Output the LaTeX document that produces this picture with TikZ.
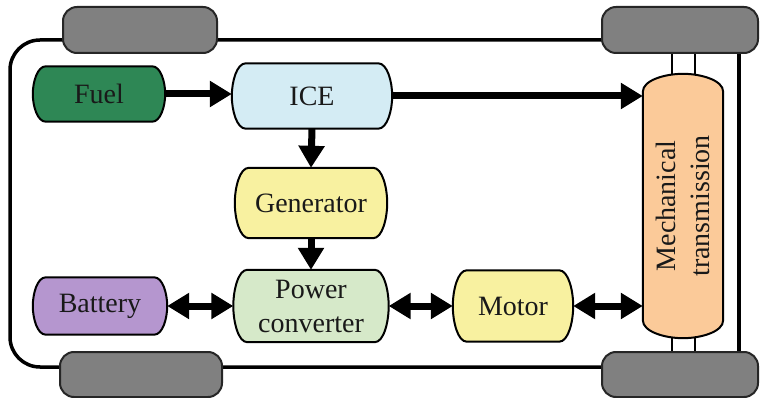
\documentclass[tikz,border=0pt]{standalone}
\usepackage{fontspec}
\setmainfont{Liberation Serif}
\newfontfamily\dfont{Liberation Serif}
\usetikzlibrary{arrows.meta,calc,backgrounds}
\definecolor{fuelc}{RGB}{46,135,85}
\definecolor{icec}{RGB}{212,236,244}
\definecolor{genc}{RGB}{248,241,160}
\definecolor{pcc}{RGB}{214,233,201}
\definecolor{batc}{RGB}{181,150,207}
\definecolor{trc}{RGB}{251,202,153}
\definecolor{wheelc}{RGB}{128,128,128}
\definecolor{txtc}{RGB}{25,25,25}
\tikzset{
  blk/.style={rectangle, inner sep=0pt, align=center, text=txtc, font=\dfont\fontsize{28}{34}\selectfont},
  blkline/.style={draw=black, line width=2pt},
  wheel/.style={draw=black!85, line width=2pt, fill=wheelc, rounded corners=14pt},
  flow/.style={line width=7pt, -{Triangle[length=22pt,width=25pt]}},
  bflow/.style={line width=7pt, {Triangle[length=22pt,width=25pt]}-{Triangle[length=22pt,width=25pt]}},
  frame/.style={line width=3.5pt, draw=black},
  axle/.style={line width=1.8pt, draw=black}
}
% horizontal block outline: name, colour, corner inset
\newcommand{\hshape}[3]{%
  \path[blkline, fill=#2] let \p1=(#1.north west), \p2=(#1.south east), \n1={\y1-\y2} in
   ({\x1+#3},\y1) -- ({\x2-#3},\y1)
   .. controls ({\x2-0.35*#3},\y1) and (\x2,{\y1-0.28*\n1}) .. (\x2,{0.5*(\y1+\y2)})
   .. controls (\x2,{\y2+0.28*\n1}) and ({\x2-0.35*#3},\y2) .. ({\x2-#3},\y2)
   -- ({\x1+#3},\y2)
   .. controls ({\x1+0.35*#3},\y2) and (\x1,{\y2+0.28*\n1}) .. (\x1,{0.5*(\y1+\y2)})
   .. controls (\x1,{\y1-0.28*\n1}) and ({\x1+0.35*#3},\y1) .. cycle;}
% vertical block outline: name, colour, corner inset
\newcommand{\vshape}[3]{%
  \path[blkline, fill=#2] let \p1=(#1.north west), \p2=(#1.south east), \n1={\x2-\x1} in
   (\x1,{\y1-#3})
   .. controls (\x1,{\y1-0.35*#3}) and ({\x1+0.28*\n1},\y1) .. ({0.5*(\x1+\x2)},\y1)
   .. controls ({\x2-0.28*\n1},\y1) and (\x2,{\y1-0.35*#3}) .. (\x2,{\y1-#3})
   -- (\x2,{\y2+#3})
   .. controls (\x2,{\y2+0.35*#3}) and ({\x2-0.28*\n1},\y2) .. ({0.5*(\x1+\x2)},\y2)
   .. controls ({\x1+0.28*\n1},\y2) and (\x1,{\y2+0.35*#3}) .. (\x1,{\y2+#3}) -- cycle;}
\begin{document}
\begin{tikzpicture}[x=1pt,y=-1pt]
\useasboundingbox (0,0) rectangle (760,398);
% blocks (text on main layer)
\node[blk, minimum width=132pt, minimum height=55pt] (fuel) at (99,94) {Fuel};
\node[blk, minimum width=160pt, minimum height=65pt] (ice) at (312,96) {ICE};
\node[blk, minimum width=152pt, minimum height=70pt] (gen) at (311,203) {Generator};
\node[blk, minimum width=155pt, minimum height=72pt] (pc) at (311,306) {Power\\converter};
\node[blk, minimum width=134pt, minimum height=57pt] (bat) at (100,306) {Battery};
\node[blk, minimum width=120pt, minimum height=71pt] (mot) at (513,306) {Motor};
\node[blk, minimum width=80pt, minimum height=264pt] (tr) at (683,206) {};
\node[blk, rotate=90] (trtxt) at (tr.center) {Mechanical\\transmission};
\begin{scope}[on background layer]
\fill[white] (0,0) rectangle (760,398);
% frame
\draw[frame, rounded corners=30pt] (610,40) -- (10,40) -- (10,367) -- (610,367);
\coordinate (rt) at (739,40);
\coordinate (rb) at (739,367);
\draw[frame] (rt) -- (rb);
% axles
\coordinate (a1t) at (672,40);
\coordinate (a1b) at (672,367);
\coordinate (a2t) at (695,40);
\coordinate (a2b) at (695,367);
\draw[axle] (a1t) -- (a1b);
\draw[axle] (a2t) -- (a2b);
% wheels
\draw[wheel] (63,7) rectangle (217,53);
\draw[wheel] (60,352) rectangle (222,397);
\draw[wheel] (602,7) rectangle (758,53);
\draw[wheel] (602,352) rectangle (758,397);
% block outlines
\hshape{fuel}{fuelc}{13pt}
\hshape{ice}{icec}{14pt}
\hshape{gen}{genc}{14pt}
\hshape{pc}{pcc}{14pt}
\hshape{bat}{batc}{13pt}
\hshape{mot}{genc}{14pt}
\vshape{tr}{trc}{18pt}
\end{scope}
% arrows
\draw[flow] (fuel.east) -- (fuel.east -| ice.west);
\draw[flow] (ice.east) -- (ice.east -| tr.west);
\draw[flow] (ice.south) -- (gen.north);
\draw[flow] (gen.south) -- (pc.north);
\draw[bflow] (bat.east) -- (pc.west);
\draw[bflow] (pc.east) -- (mot.west);
\draw[bflow] (mot.east) -- (mot.east -| tr.west);
\end{tikzpicture}
\end{document}
